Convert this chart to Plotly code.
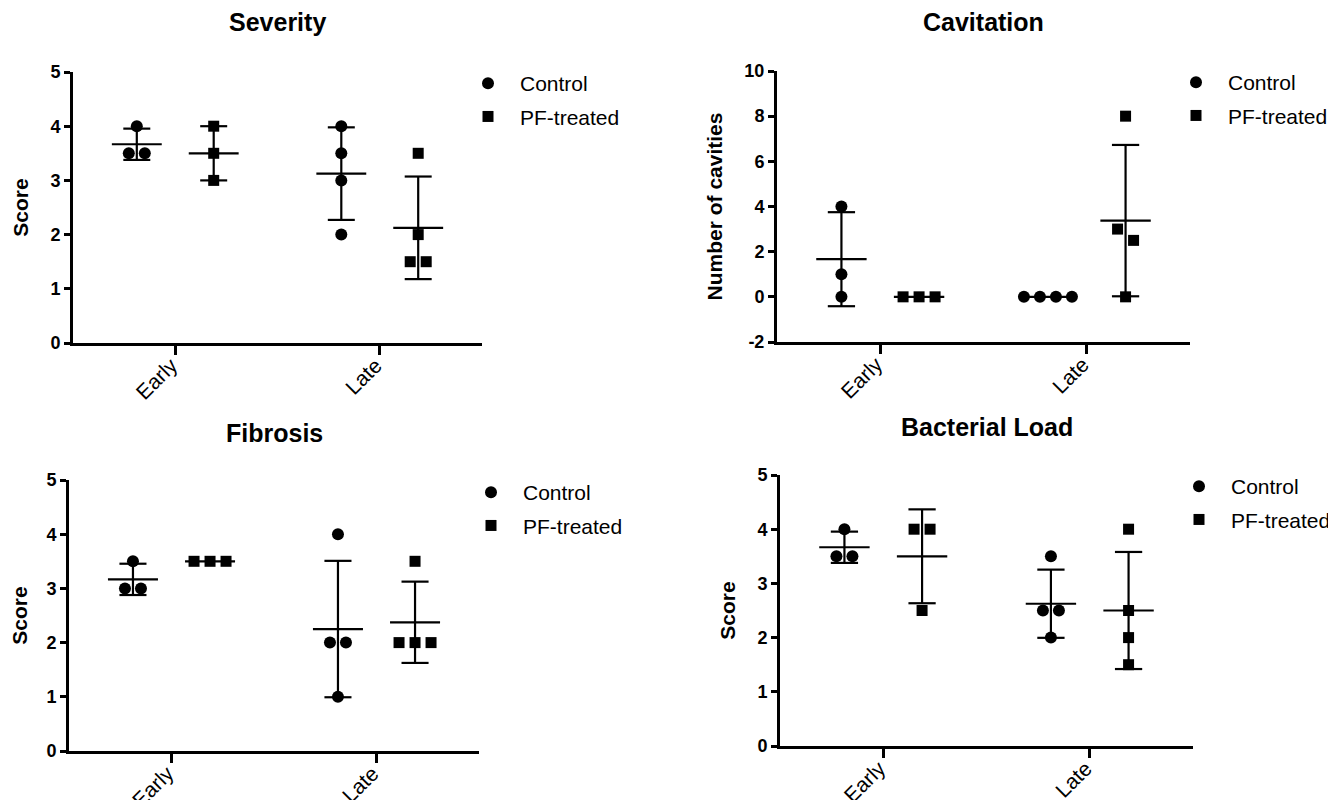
import numpy as np
import plotly.graph_objects as go

# ---------------- data ----------------
categories = ["Early", "Late"]
groups = ["Control", "PF-treated"]

severity_control = [[4, 3.5, 3.5], [4, 3.5, 3, 2]]
severity_pf = [[4, 3.5, 3], [3.5, 2, 1.5, 1.5]]

cavitation_control = [[4, 1, 0], [0, 0, 0, 0]]
cavitation_pf = [[0, 0, 0], [8, 3, 2.5, 0]]

fibrosis_control = [[3.5, 3, 3], [4, 2, 2, 1]]
fibrosis_pf = [[3.5, 3.5, 3.5], [3.5, 2, 2, 2]]

bacterial_control = [[4, 3.5, 3.5], [3.5, 2.5, 2.5, 2]]
bacterial_pf = [[4, 4, 2.5], [4, 2.5, 2, 1.5]]

panel_titles = ["Severity", "Cavitation", "Fibrosis", "Bacterial Load"]
y_titles = ["Score", "Number of cavities", "Score", "Score"]
y_tickvals = [[0, 1, 2, 3, 4, 5], [-2, 0, 2, 4, 6, 8, 10], [0, 1, 2, 3, 4, 5], [0, 1, 2, 3, 4, 5]]
y_ticktext = [["0", "1", "2", "3", "4", "5"],
              ["-2", "0", "2", "4", "6", "8", "10"],
              ["0", "1", "2", "3", "4", "5"],
              ["0", "1", "2", "3", "4", "5"]]

# ---------------- layout geometry (pixels) ----------------
W, H = 1336, 800
FONT = "Liberation Sans, Arial, sans-serif"
panels = [
    dict(data=[severity_control, severity_pf], px=(65, 474), py=(64, 335), leg=(448, 55), ty=14),
    dict(data=[cavitation_control, cavitation_pf], px=(769, 1182), py=(63, 334), leg=(1156, 54), ty=14),
    dict(data=[fibrosis_control, fibrosis_pf], px=(61, 471), py=(472, 743), leg=(451, 464), ty=425),
    dict(data=[bacterial_control, bacterial_pf], px=(772, 1185), py=(467, 738), leg=(1159, 458), ty=419),
]

GROUP_OFFSET = 0.188
MEAN_HALF = 0.122
CAP_HALF = 0.066
SYMBOLS = ["circle", "square"]
SIZES = [12, 11]


def swarm(values, y_px_per_unit, x_px_per_unit, thresh=13, spacing=16):
    vals = np.asarray(values, dtype=float)
    order = np.argsort(-vals, kind="stable")
    offsets = np.zeros(len(vals))
    clusters = []
    for idx in order:
        if clusters and abs(vals[clusters[-1][-1]] - vals[idx]) * y_px_per_unit < thresh:
            clusters[-1].append(idx)
        else:
            clusters.append([idx])
    for cl in clusters:
        n = len(cl)
        for i, idx in enumerate(cl):
            offsets[idx] = (i - (n - 1) / 2) * spacing / x_px_per_unit
    return offsets


fig = go.Figure()
annotations = []
layout_updates = {}

for p, pan in enumerate(panels):
    k = "" if p == 0 else str(p + 1)
    xa, ya = "x" + k, "y" + k
    legname = "legend" + k
    x0, x1 = pan["px"]
    y0, y1 = pan["py"]
    yr = [y_tickvals[p][0], y_tickvals[p][-1]]
    x_ppu = (x1 - x0) / 2.0
    y_ppu = (y1 - y0) / (yr[1] - yr[0])

    for g, gname in enumerate(groups):
        xs, ys = [], []
        lx, ly = [], []
        for c, cat in enumerate(categories):
            vals = pan["data"][g][c]
            center = c + (-GROUP_OFFSET if g == 0 else GROUP_OFFSET)
            offs = swarm(vals, y_ppu, x_ppu)
            xs += list(center + offs)
            ys += list(vals)
            m = float(np.mean(vals))
            sd = float(np.std(vals, ddof=1))
            lx += [center - MEAN_HALF, center + MEAN_HALF, None]
            ly += [m, m, None]
            if sd > 0:
                lx += [center, center, None, center - CAP_HALF, center + CAP_HALF, None,
                       center - CAP_HALF, center + CAP_HALF, None]
                ly += [m - sd, m + sd, None, m + sd, m + sd, None, m - sd, m - sd, None]
        fig.add_trace(go.Scatter(
            x=lx, y=ly, mode="lines", line=dict(color="black", width=2.2),
            xaxis=xa, yaxis=ya, showlegend=False, hoverinfo="skip"))
        fig.add_trace(go.Scatter(
            x=xs, y=ys, mode="markers", name=gname, legendgroup=f"{gname}{p}",
            marker=dict(symbol=SYMBOLS[g], size=SIZES[g], color="black"),
            xaxis=xa, yaxis=ya, legend=legname, showlegend=True))

    layout_updates["xaxis" + k] = dict(
        domain=[x0 / W, x1 / W], anchor=ya, range=[-0.5, 1.5],
        tickmode="array", tickvals=[0, 1], ticktext=categories, tickangle=-45,
        ticks="outside", ticklen=9, tickwidth=3, tickcolor="black",
        ticklabelstandoff=-10, ticklabelshift=-4,
        showline=True, linewidth=3, linecolor="black",
        showgrid=False, zeroline=False, automargin=False,
        tickfont=dict(family=FONT, size=21, color="black"))
    layout_updates["yaxis" + k] = dict(
        domain=[1 - y1 / H, 1 - y0 / H], anchor=xa, range=yr,
        tickmode="array", tickvals=y_tickvals[p], ticktext=y_ticktext[p],
        ticks="outside", ticklen=6, tickwidth=3, tickcolor="black",
        showline=True, linewidth=3, linecolor="black",
        showgrid=False, zeroline=False, automargin=False,
        tickfont=dict(family=FONT, size=18, color="black", weight="bold"),
        title=dict(text=y_titles[p], standoff=17,
                   font=dict(family=FONT, size=21, color="black", weight="bold")))
    layout_updates[legname] = dict(
        x=pan["leg"][0] / W, y=1 - pan["leg"][1] / H, xanchor="left", yanchor="top",
        itemwidth=54, traceorder="grouped", tracegroupgap=3,
        font=dict(family=FONT, size=21, color="black"), bgcolor="rgba(0,0,0,0)")
    annotations.append(dict(
        text=panel_titles[p], xref="paper", yref="paper",
        x=(x0 + x1) / 2 / W, y=1 - pan["ty"] / H, xanchor="center", yanchor="middle",
        showarrow=False, font=dict(family=FONT, size=25, color="black", weight="bold")))

fig.update_layout(
    width=W, height=H, margin=dict(l=0, r=0, t=0, b=0),
    paper_bgcolor="white", plot_bgcolor="white",
    annotations=annotations, **layout_updates)

fig.write_html("out.html")
